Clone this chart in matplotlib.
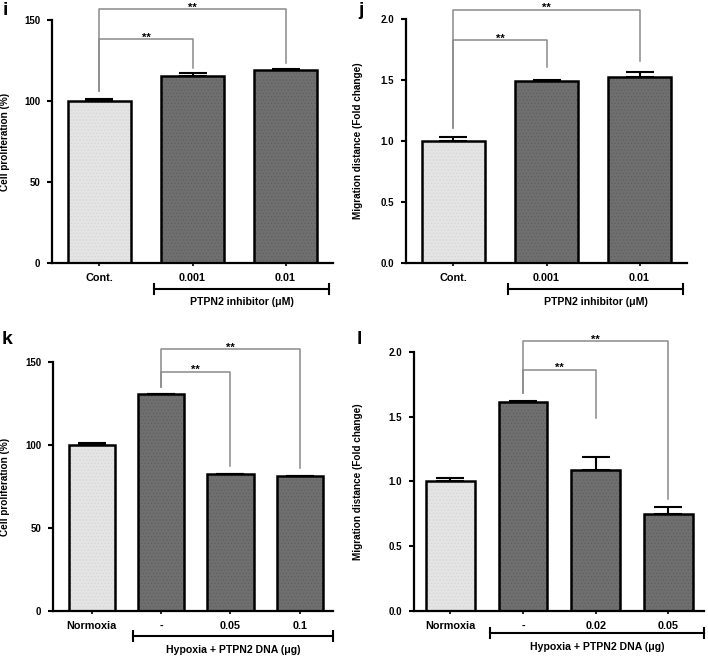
import matplotlib
matplotlib.use('Agg')
import matplotlib.pyplot as plt

plt.rcParams['font.family'] = ['Liberation Sans', 'DejaVu Sans']
plt.rcParams['font.weight'] = 'bold'
plt.rcParams['hatch.linewidth'] = 0.4

# panel i - cell proliferation, inhibitor
i_labels = ['Cont.', '0.001', '0.01']
i_values = [100, 115.5, 119.3]
i_errors = [1.0, 1.5, 0.4]

# panel j - migration, inhibitor
j_labels = ['Cont.', '0.001', '0.01']
j_values = [1.0, 1.49, 1.53]
j_errors = [0.035, 0.015, 0.035]

# panel k - cell proliferation, hypoxia + DNA
k_labels = ['Normoxia', '-', '0.05', '0.1']
k_values = [100, 130.7, 82.4, 81.3]
k_errors = [1.2, 0.3, 0.3, 0.3]

# panel l - migration, hypoxia + DNA
l_labels = ['Normoxia', '-', '0.02', '0.05']
l_values = [1.0, 1.61, 1.09, 0.745]
l_errors = [0.025, 0.01, 0.1, 0.055]

W, H = 708, 657
fig = plt.figure(figsize=(W / 100, H / 100), dpi=100)

LIGHT = '#e4e4e4'
DARK = '#6f6f6f'


def make_axes(left, right, top, bottom):
    return fig.add_axes([left / W, 1 - bottom / H, (right - left) / W, (bottom - top) / H])


def draw_panel(ax, labels, values, errors, ymax, yticks, ylabel,
               xlim, group_label, group_span, brackets, px_h, px_w,
               group_off, label_off, ylabel_off):
    x = list(range(len(labels)))
    colors = [LIGHT] + [DARK] * (len(labels) - 1)
    hatchc = ['#d2d2d2'] + ['#5c5c5c'] * (len(labels) - 1)
    # filled bars with faint texture, then black outlines
    ax.bar(x, values, width=0.67, color=colors, edgecolor=hatchc, hatch='.....',
           linewidth=0, zorder=2)
    ax.bar(x, values, width=0.67, fill=False, edgecolor='black', linewidth=1.8, zorder=3)
    ax.errorbar(x, values, yerr=[[0] * len(errors), errors], fmt='none',
                ecolor='black', elinewidth=1.5, capsize=10, capthick=1.5, zorder=1)

    ax.set_xlim(*xlim)
    ax.set_ylim(0, ymax)
    ax.set_yticks(yticks)
    ax.set_yticklabels([('%g' % t) if ymax > 10 else '%.1f' % t for t in yticks])
    ax.set_xticks(x)
    ax.set_xticklabels(labels)
    for s in ['top', 'right']:
        ax.spines[s].set_visible(False)
    for s in ['left', 'bottom']:
        ax.spines[s].set_linewidth(1.6)
    ax.tick_params(axis='y', direction='out', length=3.5, width=1.5, labelsize=7, pad=5)
    ax.tick_params(axis='x', direction='out', length=2.5, width=1.2, labelsize=7.8, pad=4.5)
    ax.set_ylabel(ylabel, fontsize=7.2, fontweight='bold')
    ax.yaxis.set_label_coords(-ylabel_off / px_w, 0.5)

    # group bracket under the axis
    tr = ax.get_xaxis_transform()
    gy = -group_off / px_h
    ax.plot(group_span, [gy, gy], color='black', lw=1.5, transform=tr, clip_on=False)
    for gx in group_span:
        ax.plot([gx, gx], [gy - 5 / px_h, gy + 5 / px_h], color='black', lw=1.5,
                transform=tr, clip_on=False)
    ax.text(sum(group_span) / 2, -label_off / px_h, group_label, transform=tr,
            ha='center', va='center', fontsize=7.6, fontweight='bold')

    # significance brackets
    for x0, x1, y0, ytop, y1 in brackets:
        ax.plot([x0, x0, x1, x1], [y0, ytop, ytop, y1], color='#8a8a8a', lw=1.1,
                clip_on=False, zorder=4)
        ax.annotate('**', ((x0 + x1) / 2, ytop), xytext=(0, -2.5),
                    textcoords='offset points', ha='center', va='bottom',
                    fontsize=8, fontweight='bold', annotation_clip=False)


def panel_letter(letter, px, py):
    fig.text(px / W, 1 - py / H, letter, fontsize=14, fontweight='bold',
             ha='left', va='top')


ax_i = make_axes(52, 333, 20, 263)
draw_panel(ax_i, i_labels, i_values, i_errors, 150, [0, 50, 100, 150],
           'Cell proliferation (%)', (-0.51, 2.51), 'PTPN2 inhibitor (\u03bcM)',
           (0.59, 2.47), [(0, 1, 106, 138, 120.5), (0, 2, 106, 156.5, 123.5)],
           243, 281, 26, 39, 41.5)

ax_j = make_axes(406, 687, 19.3, 263)
draw_panel(ax_j, j_labels, j_values, j_errors, 2.0, [0, 0.5, 1.0, 1.5, 2.0],
           'Migration distance (Fold change)', (-0.51, 2.51), 'PTPN2 inhibitor (\u03bcM)',
           (0.59, 2.47), [(0, 1, 1.11, 1.83, 1.61), (0, 2, 1.11, 2.08, 1.66)],
           243.7, 281, 26, 39, 43)

ax_k = make_axes(53, 333, 362.3, 611)
draw_panel(ax_k, k_labels, k_values, k_errors, 150, [0, 50, 100, 150],
           'Cell proliferation (%)', (-0.56, 3.48), 'Hypoxia + PTPN2 DNA (\u03bcg)',
           (0.6, 3.48), [(1, 2, 135, 144.3, 87.5), (1, 3, 135, 158, 86)],
           248.7, 280, 25, 39, 42.5)

ax_l = make_axes(414, 704, 351.7, 611)
draw_panel(ax_l, l_labels, l_values, l_errors, 2.0, [0, 0.5, 1.0, 1.5, 2.0],
           'Migration distance (Fold change)', (-0.5, 3.49), 'Hypoxia + PTPN2 DNA (\u03bcg)',
           (0.55, 3.49), [(1, 2, 1.685, 1.86, 1.49), (1, 3, 1.685, 2.08, 0.865)],
           259.3, 290, 22, 36, 51)

panel_letter('i', 3, 2)
panel_letter('j', 358, 2)
panel_letter('k', 2, 331)
panel_letter('l', 357, 331)

fig.savefig('out.png', dpi=100)
